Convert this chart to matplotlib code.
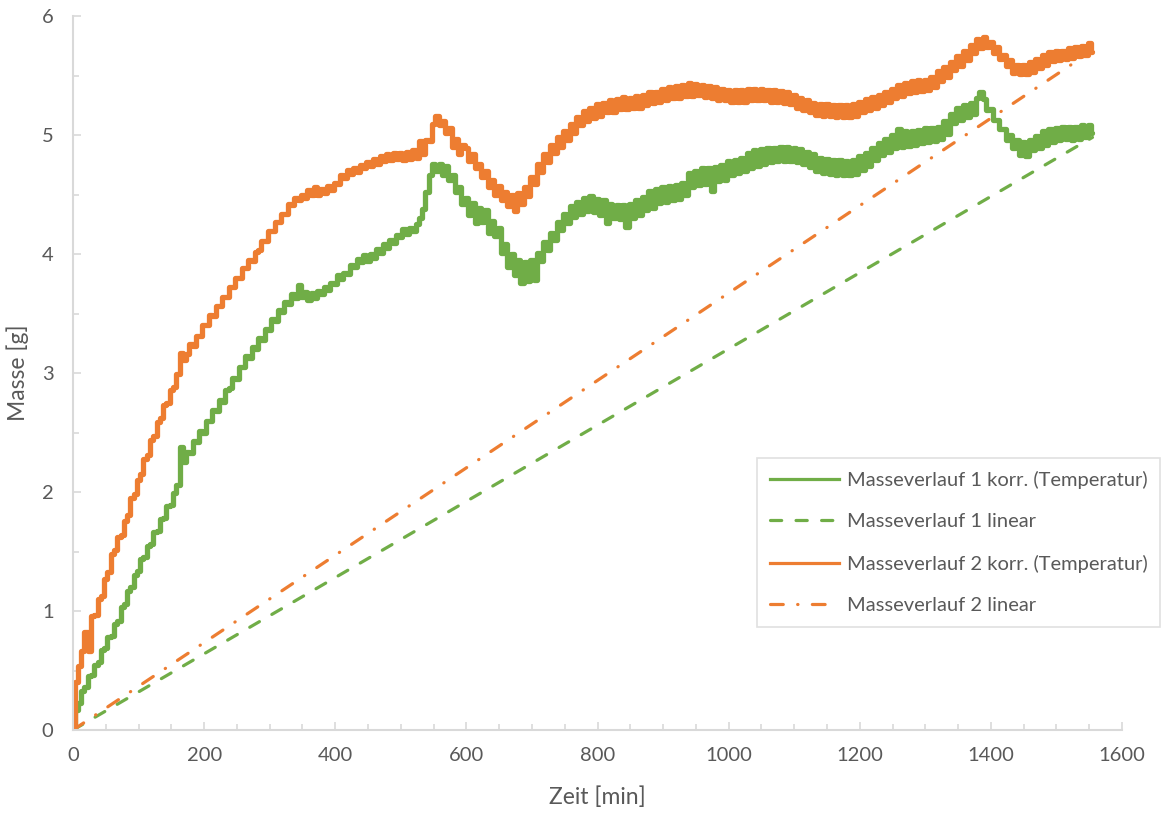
import numpy as np
import matplotlib

matplotlib.use("Agg")
import matplotlib.pyplot as plt
from matplotlib.ticker import MultipleLocator

plt.rcParams["font.family"] = ["Lato", "DejaVu Sans"]

# Zeitachse der Messung, Abtastung alle 5 min
zeit = np.arange(0, 1560, 5)

# Masseverlauf 1, temperaturkorrigiert [g]
masse_1 = [
    0.00, 0.17, 0.23, 0.33, 0.36, 0.45, 0.46, 0.55, 0.57, 0.67, 0.69, 0.78, 0.79, 0.89, 0.92, 1.03, 1.06, 1.17, 1.20, 1.30,
    1.34, 1.44, 1.45, 1.55, 1.56, 1.66, 1.67, 1.77, 1.78, 1.88, 1.89, 1.99, 2.06, 2.38, 2.25, 2.34, 2.33, 2.43, 2.42, 2.51,
    2.50, 2.60, 2.60, 2.69, 2.68, 2.77, 2.76, 2.86, 2.87, 2.96, 2.95, 3.05, 3.05, 3.14, 3.13, 3.22, 3.20, 3.29, 3.28, 3.37,
    3.36, 3.45, 3.44, 3.53, 3.51, 3.60, 3.58, 3.66, 3.63, 3.74, 3.64, 3.68, 3.61, 3.67, 3.63, 3.69, 3.66, 3.72, 3.70, 3.76,
    3.75, 3.82, 3.79, 3.84, 3.83, 3.91, 3.89, 3.96, 3.93, 3.99, 3.94, 4.00, 3.97, 4.04, 4.01, 4.08, 4.05, 4.12, 4.09, 4.16,
    4.14, 4.21, 4.17, 4.22, 4.19, 4.25, 4.30, 4.38, 4.52, 4.66, 4.76, 4.70, 4.76, 4.66, 4.74, 4.62, 4.66, 4.52, 4.56, 4.42,
    4.47, 4.33, 4.43, 4.26, 4.39, 4.27, 4.37, 4.18, 4.28, 4.15, 4.22, 4.01, 4.08, 3.89, 4.00, 3.82, 3.95, 3.76, 3.93, 3.77,
    3.95, 3.78, 4.01, 3.94, 4.10, 4.03, 4.18, 4.12, 4.27, 4.20, 4.34, 4.26, 4.40, 4.31, 4.44, 4.34, 4.47, 4.36, 4.49, 4.35,
    4.46, 4.33, 4.45, 4.26, 4.42, 4.30, 4.41, 4.29, 4.41, 4.23, 4.42, 4.30, 4.45, 4.33, 4.48, 4.37, 4.53, 4.39, 4.55, 4.43,
    4.56, 4.44, 4.57, 4.45, 4.58, 4.46, 4.60, 4.50, 4.68, 4.56, 4.70, 4.58, 4.72, 4.59, 4.72, 4.53, 4.73, 4.61, 4.75, 4.62,
    4.78, 4.66, 4.79, 4.68, 4.81, 4.70, 4.85, 4.72, 4.87, 4.74, 4.88, 4.76, 4.89, 4.77, 4.89, 4.78, 4.90, 4.78, 4.90, 4.78,
    4.89, 4.77, 4.88, 4.76, 4.86, 4.73, 4.84, 4.70, 4.81, 4.68, 4.80, 4.67, 4.79, 4.66, 4.79, 4.66, 4.78, 4.66, 4.79, 4.67,
    4.82, 4.71, 4.85, 4.74, 4.89, 4.79, 4.93, 4.83, 4.97, 4.86, 5.00, 4.89, 5.05, 4.90, 5.03, 4.91, 5.03, 4.92, 5.04, 4.93,
    5.06, 4.94, 5.06, 4.95, 5.07, 4.97, 5.12, 5.01, 5.18, 5.10, 5.23, 5.13, 5.25, 5.15, 5.27, 5.18, 5.31, 5.36, 5.30, 5.21,
    5.22, 5.13, 5.13, 5.05, 5.05, 4.96, 5.00, 4.89, 4.96, 4.83, 4.94, 4.82, 4.96, 4.87, 4.99, 4.89, 5.03, 4.92, 5.05, 4.94,
    5.06, 4.96, 5.07, 4.97, 5.07, 4.96, 5.07, 4.97, 5.08, 4.98, 5.08, 5.02,
]

# Masseverlauf 2, temperaturkorrigiert [g]
masse_2 = [
    0.00, 0.40, 0.54, 0.66, 0.82, 0.66, 0.96, 0.97, 1.10, 1.13, 1.27, 1.33, 1.48, 1.51, 1.62, 1.64, 1.76, 1.81, 1.95, 1.98,
    2.10, 2.15, 2.28, 2.31, 2.44, 2.47, 2.59, 2.62, 2.73, 2.75, 2.86, 2.88, 2.99, 3.17, 3.11, 3.16, 3.24, 3.23, 3.31, 3.31,
    3.40, 3.40, 3.49, 3.48, 3.56, 3.56, 3.64, 3.64, 3.72, 3.72, 3.80, 3.80, 3.88, 3.88, 3.95, 3.94, 4.02, 4.03, 4.11, 4.11,
    4.19, 4.19, 4.27, 4.27, 4.34, 4.34, 4.42, 4.41, 4.47, 4.45, 4.50, 4.47, 4.54, 4.50, 4.56, 4.50, 4.55, 4.51, 4.57, 4.54,
    4.60, 4.59, 4.66, 4.64, 4.71, 4.67, 4.72, 4.69, 4.75, 4.72, 4.77, 4.74, 4.80, 4.76, 4.82, 4.78, 4.84, 4.79, 4.85, 4.80,
    4.85, 4.79, 4.86, 4.80, 4.87, 4.81, 4.95, 4.84, 4.96, 4.95, 5.09, 5.16, 5.08, 5.12, 5.02, 5.06, 4.90, 4.97, 4.84, 4.92,
    4.89, 4.78, 4.84, 4.72, 4.76, 4.65, 4.70, 4.56, 4.62, 4.50, 4.57, 4.45, 4.52, 4.40, 4.50, 4.36, 4.51, 4.42, 4.56, 4.49,
    4.65, 4.59, 4.76, 4.69, 4.84, 4.77, 4.92, 4.85, 4.98, 4.90, 5.03, 4.96, 5.09, 5.02, 5.15, 5.08, 5.20, 5.12, 5.23, 5.14,
    5.26, 5.16, 5.27, 5.19, 5.29, 5.19, 5.30, 5.22, 5.32, 5.22, 5.31, 5.23, 5.33, 5.23, 5.34, 5.25, 5.36, 5.27, 5.36, 5.28,
    5.39, 5.29, 5.40, 5.31, 5.41, 5.31, 5.42, 5.33, 5.44, 5.33, 5.43, 5.34, 5.42, 5.32, 5.41, 5.31, 5.40, 5.29, 5.39, 5.29,
    5.38, 5.28, 5.38, 5.28, 5.38, 5.28, 5.39, 5.29, 5.39, 5.29, 5.39, 5.29, 5.38, 5.28, 5.38, 5.28, 5.37, 5.27, 5.36, 5.26,
    5.34, 5.23, 5.31, 5.21, 5.29, 5.19, 5.27, 5.17, 5.26, 5.16, 5.26, 5.16, 5.25, 5.15, 5.25, 5.15, 5.25, 5.15, 5.26, 5.16,
    5.28, 5.19, 5.30, 5.21, 5.32, 5.23, 5.34, 5.25, 5.36, 5.28, 5.39, 5.31, 5.42, 5.33, 5.44, 5.35, 5.45, 5.36, 5.46, 5.37,
    5.46, 5.38, 5.49, 5.40, 5.54, 5.45, 5.57, 5.49, 5.61, 5.55, 5.66, 5.58, 5.71, 5.63, 5.76, 5.69, 5.81, 5.73, 5.82, 5.74,
    5.78, 5.69, 5.74, 5.64, 5.67, 5.58, 5.63, 5.52, 5.59, 5.51, 5.59, 5.51, 5.61, 5.53, 5.64, 5.56, 5.67, 5.59, 5.70, 5.62,
    5.71, 5.63, 5.71, 5.64, 5.73, 5.65, 5.74, 5.66, 5.75, 5.67, 5.77, 5.70,
]

# lineare Verlaeufe (Start- und Endpunkt)
zeit_linear = [0, 1555]
masse_1_linear = [0.0, 4.98]
masse_2_linear = [0.0, 5.71]

GRUEN = "#70AD47"
ORANGE = "#ED7D31"
ACHSE = "#D9D9D9"
TEXT = "#595959"

fig = plt.figure(figsize=(11.72, 8.14), dpi=100)
ax = fig.add_axes([73 / 1172, 1 - 730 / 814, (1122 - 73) / 1172, (730 - 16) / 814])

# Messkurven: Stufen + dicke Linie ergeben das verrauschte Band
ax.plot(zeit, masse_1, color=GRUEN, lw=3.8, drawstyle="steps-mid",
        solid_joinstyle="round", solid_capstyle="round")
ax.plot(zeit_linear, masse_1_linear, color=GRUEN, lw=2.3, dashes=(3.5, 4.5),
        dash_capstyle="round")
ax.plot(zeit, masse_2, color=ORANGE, lw=3.8, drawstyle="steps-mid",
        solid_joinstyle="round", solid_capstyle="round")
ax.plot(zeit_linear, masse_2_linear, color=ORANGE, lw=2.3, dashes=(4, 4.5, 0.1, 4.5),
        dash_capstyle="round")

# Legendeneintraege mit normaler Linienstaerke
h1, = ax.plot([], [], color=GRUEN, lw=2.3, label="Masseverlauf 1 korr. (Temperatur)")
h2, = ax.plot([], [], color=GRUEN, lw=2.3, dashes=(3.5, 4.5), dash_capstyle="round",
              label="Masseverlauf 1 linear")
h3, = ax.plot([], [], color=ORANGE, lw=2.3, label="Masseverlauf 2 korr. (Temperatur)")
h4, = ax.plot([], [], color=ORANGE, lw=2.3, dashes=(4, 4.5, 0.1, 4.5), dash_capstyle="round",
              label="Masseverlauf 2 linear")

ax.set_xlim(0, 1600)
ax.set_ylim(0, 6)
ax.xaxis.set_major_locator(MultipleLocator(200))
ax.xaxis.set_minor_locator(MultipleLocator(50))
ax.yaxis.set_major_locator(MultipleLocator(1))
ax.yaxis.set_minor_locator(MultipleLocator(0.5))

for side in ("top", "right"):
    ax.spines[side].set_visible(False)
for side in ("left", "bottom"):
    ax.spines[side].set_color(ACHSE)
    ax.spines[side].set_linewidth(1.5)

ax.tick_params(which="both", direction="in", color=ACHSE, width=1.2,
               labelcolor=TEXT, labelsize=14.5)
ax.tick_params(which="major", length=6, pad=12)
ax.tick_params(which="minor", length=4)
ax.tick_params(axis="y", pad=14)

ax.set_xlabel("Zeit [min]", fontsize=16.5, color=TEXT, labelpad=16)
ax.set_ylabel("Masse [g]", fontsize=16.5, color=TEXT, labelpad=9)

leg = fig.legend(handles=[h1, h2, h3, h4], loc="upper left",
                 bbox_to_anchor=(757 / 1172, 1 - 458 / 814),
                 borderaxespad=0, fontsize=14.5, frameon=True, fancybox=False,
                 handlelength=3.4, handletextpad=0.4, labelspacing=1.2,
                 borderpad=0.65)
leg.get_frame().set_edgecolor(ACHSE)
leg.get_frame().set_linewidth(1.2)
for t in leg.get_texts():
    t.set_color(TEXT)

fig.savefig("out.png", dpi=100, facecolor="white")
